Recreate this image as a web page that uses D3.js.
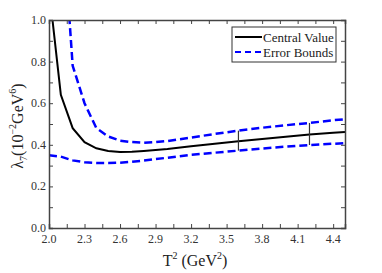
<!DOCTYPE html>
<html>
<head>
<meta charset="utf-8">
<script src="https://cdn.jsdelivr.net/npm/d3@7"></script>
<style>
  body { margin: 0; background: #fff; }
  text { font-family: "Liberation Serif", "Times New Roman", serif; }
</style>
</head>
<body>
<div id="container"></div>
<script>
/* DATA */
const tSq = [2.0, 2.1, 2.2, 2.3, 2.4, 2.5, 2.6, 2.7, 2.8, 2.9, 3.0, 3.2, 3.4, 3.6, 3.8, 4.0, 4.2, 4.4, 4.5];
const central = [1.15, 0.64, 0.48, 0.413, 0.383, 0.37, 0.365, 0.366, 0.37, 0.375, 0.38, 0.393, 0.405, 0.417, 0.428, 0.439, 0.45, 0.458, 0.462];
const upper = [2.4, 1.6, 0.78, 0.6, 0.48, 0.44, 0.42, 0.413, 0.41, 0.413, 0.418, 0.435, 0.452, 0.468, 0.482, 0.494, 0.505, 0.518, 0.523];
const lower = [0.35, 0.343, 0.325, 0.316, 0.313, 0.312, 0.314, 0.318, 0.324, 0.331, 0.338, 0.352, 0.362, 0.372, 0.382, 0.391, 0.399, 0.405, 0.408];
const errorAt = [3.6, 4.2];
const xTickLabels = [2.0, 2.3, 2.6, 2.9, 3.2, 3.5, 3.8, 4.1, 4.4];
const yTickLabels = [0.0, 0.2, 0.4, 0.6, 0.8, 1.0];
const legendNames = ["Central Value", "Error Bounds"];

/* CONSTANTS */
const width = 382, height = 273;
const margin = { top: 20, right: 37, bottom: 45, left: 49 };
const axisColor = "#444";

const svg = d3.select("#container").append("svg")
  .attr("width", width).attr("height", height);

/* SCALES */
const x = d3.scaleLinear().domain([2.0, 4.5]).range([margin.left, width - margin.right]);
const y = d3.scaleLinear().domain([0, 1]).range([height - margin.bottom, margin.top]);

svg.append("clipPath").attr("id", "clip")
  .append("rect")
  .attr("x", x.range()[0]).attr("y", y.range()[1])
  .attr("width", x.range()[1] - x.range()[0])
  .attr("height", y.range()[0] - y.range()[1]);

const line = vals => d3.line().x((d, i) => x(tSq[i])).y(d => y(d))(vals);

const plot = svg.append("g").attr("clip-path", "url(#clip)");

plot.append("path").attr("d", line(upper))
  .attr("fill", "none").attr("stroke", "#0000ff").attr("stroke-width", 2.5)
  .attr("stroke-dasharray", "8,4");
plot.append("path").attr("d", line(lower))
  .attr("fill", "none").attr("stroke", "#0000ff").attr("stroke-width", 2.5)
  .attr("stroke-dasharray", "8,4");
plot.append("path").attr("d", line(central))
  .attr("fill", "none").attr("stroke", "#000").attr("stroke-width", 2);

// error bars
const interp = (arr, t) => {
  const i = d3.bisectLeft(tSq, t);
  if (tSq[i] === t) return arr[i];
  const f = (t - tSq[i - 1]) / (tSq[i] - tSq[i - 1]);
  return arr[i - 1] + f * (arr[i] - arr[i - 1]);
};
plot.selectAll(".ebar").data(errorAt).join("line")
  .attr("x1", d => x(d)).attr("x2", d => x(d))
  .attr("y1", d => y(interp(lower, d))).attr("y2", d => y(interp(upper, d)))
  .attr("stroke", "#333").attr("stroke-width", 1.2);

/* AXES */
const xTicks = d3.range(0, 17).map(i => 2.0 + i * 0.15).filter(v => v <= 4.5001);
const yTicks = d3.range(0, 11).map(i => i / 10);
const tl = 4;

const xb = svg.append("g").attr("transform", `translate(0,${y(0)})`)
  .call(d3.axisBottom(x).tickValues(xTicks).tickSize(-tl).tickFormat(""));
const xt = svg.append("g").attr("transform", `translate(0,${y(1)})`)
  .call(d3.axisTop(x).tickValues(xTicks).tickSize(-tl).tickFormat(""));
const yl = svg.append("g").attr("transform", `translate(${x(2.0)},0)`)
  .call(d3.axisLeft(y).tickValues(yTicks).tickSize(-tl).tickFormat(""));
const yr = svg.append("g").attr("transform", `translate(${x(4.5)},0)`)
  .call(d3.axisRight(y).tickValues(yTicks).tickSize(-tl).tickFormat(""));
[xb, xt, yl, yr].forEach(g => {
  g.selectAll("path").attr("stroke", axisColor).attr("stroke-width", 1.5);
  g.selectAll("line").attr("stroke", axisColor);
});

svg.append("g").selectAll("text").data(xTickLabels).join("text")
  .attr("x", d => x(d)).attr("y", y(0) + 15)
  .attr("text-anchor", "middle").attr("font-size", 12).attr("fill", "#333")
  .text(d => d.toFixed(1));
svg.append("g").selectAll("text").data(yTickLabels).join("text")
  .attr("x", x(2.0) - 3).attr("y", d => y(d) + 4)
  .attr("text-anchor", "end").attr("font-size", 12).attr("fill", "#333")
  .text(d => d.toFixed(1));

// axis titles
const xt2 = svg.append("text").attr("x", 195).attr("y", 266)
  .attr("text-anchor", "middle").attr("font-size", 16).attr("fill", "#222");
xt2.append("tspan").text("T");
xt2.append("tspan").attr("font-size", 10).attr("dy", -7).text("2");
xt2.append("tspan").attr("dy", 7).text(" (GeV");
xt2.append("tspan").attr("font-size", 10).attr("dy", -7).text("2");
xt2.append("tspan").attr("dy", 7).text(")");

const yt = svg.append("text")
  .attr("transform", `translate(23,${y(0.5) + 2}) rotate(-90)`)
  .attr("text-anchor", "middle").attr("font-size", 16).attr("fill", "#222");
yt.append("tspan").text("λ");
yt.append("tspan").attr("font-size", 10).attr("dy", 4).text("7");
yt.append("tspan").attr("dy", -4).text("(10");
yt.append("tspan").attr("font-size", 10).attr("dy", -7).text("−2");
yt.append("tspan").attr("dy", 7).text("GeV");
yt.append("tspan").attr("font-size", 10).attr("dy", -7).text("6");
yt.append("tspan").attr("dy", 7).text(")");

/* LEGEND */
const lg = svg.append("g").attr("transform", "translate(232,27)");
lg.append("rect").attr("width", 104).attr("height", 35)
  .attr("fill", "#fff").attr("stroke", "#333").attr("stroke-width", 1);
legendNames.forEach((name, i) => {
  const yy = 10 + i * 15;
  lg.append("line").attr("x1", 3).attr("x2", 30).attr("y1", yy).attr("y2", yy)
    .attr("stroke", i === 0 ? "#000" : "#0000ff").attr("stroke-width", 2)
    .attr("stroke-dasharray", i === 0 ? null : "6,4");
  lg.append("text").attr("x", 31).attr("y", yy + 4.5)
    .attr("font-size", 13).attr("fill", "#222").text(name);
});
</script>
</body>
</html>
